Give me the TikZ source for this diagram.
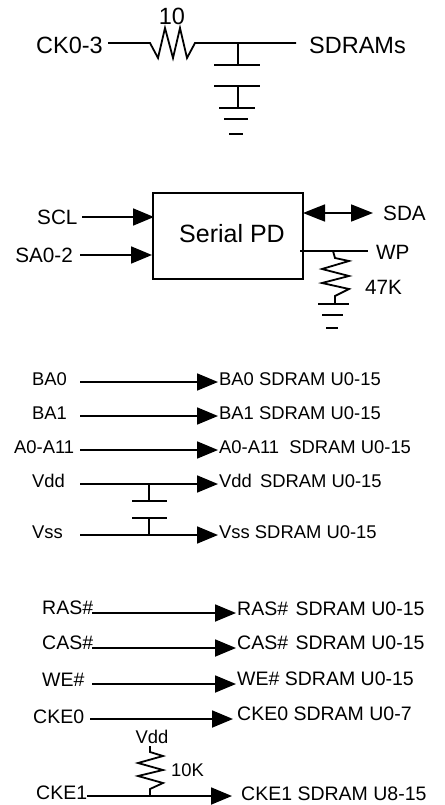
\documentclass[tikz,border=0pt]{standalone}
\usepackage{fontspec}
\setmainfont{Liberation Sans}
\usetikzlibrary{arrows.meta}
\tikzset{
  every node/.style = {inner sep = 0pt, anchor = west},
  big/.style = {font = \fontsize{23.5}{26}\selectfont},
  mid/.style = {font = \fontsize{20.7}{24}\selectfont},
  low/.style = {font = \fontsize{19.5}{22}\selectfont},
  small/.style = {font = \fontsize{18.4}{21}\selectfont},
  wire/.style = {line width = 1.8pt},
  bus/.style = {wire, -{Triangle[length = 21pt, width = 17pt]}},
  twoway/.style = {wire, {Triangle[length = 22pt, width = 17pt]}-{Triangle[length = 22pt, width = 17pt]}}
}
\begin{document}
\begin{tikzpicture}[x = 1pt, y = -1pt, line join = miter]
  \useasboundingbox (0,0) rectangle (444,805);

  %clock line
  \node[big] (ck) at (36,45) {CK0-3};
  \node[big, anchor = center] (ckval) at (172,16) {10};
  \node[big] (sdrams) at (309,45) {SDRAMs};
  \coordinate (cka) at (108,43);
  \coordinate (ckb) at (296,43);
  \coordinate (ckc) at (238,43);
  \coordinate (ckd) at (238,65);
  \coordinate (cke) at (238,86);
  \coordinate (ckf) at (238,108);
  \draw[wire] (cka) -- (150,43) -- (158,58) -- (165,28) -- (173,58) -- (180,28)
    -- (187,58) -- (195,43) -- (ckb);
  \draw[wire] (ckc) -- (ckd);
  \draw[wire] (214,65) -- (260,65);
  \draw[wire] (214,86) -- (260,86);
  \draw[wire] (cke) -- (ckf);
  \draw[wire] (219,108) -- (255,108);
  \draw[wire] (224,119) -- (248,119);
  \draw[wire] (229,134) -- (243,134);

  %serial pd
  \node[draw, line width = 1.8pt, minimum width = 150pt, minimum height = 86pt] (pd) at (152,236) {};
  \node[font = \fontsize{25}{28}\selectfont] (pdtext) at (179,234) {Serial PD};
  \node[mid] (scl) at (37,217) {SCL};
  \node[mid, anchor = east] (sa) at (73,255) {SA0-2};
  \node[mid] (sda) at (383,213) {SDA};
  \node[mid] (wp) at (376,252) {WP};
  \node[mid] (pdval) at (365,287) {47K};
  \coordinate (scla) at (82,217);
  \coordinate (sclb) at (154,217);
  \coordinate (saa) at (80,255);
  \coordinate (sab) at (152,255);
  \coordinate (sdaa) at (303,213);
  \coordinate (sdab) at (373,213);
  \coordinate (wpa) at (300,251);
  \coordinate (wpb) at (368,251);
  \draw[bus] (scla) -- (sclb);
  \draw[bus] (saa) -- (sab);
  \draw[twoway] (sdaa) -- (sdab);
  \draw[wire] (wpa) -- (wpb);
  \draw[wire] (333,251) -- (335,258) -- (349,261) -- (322,269) -- (349,276) -- (322,283)
    -- (349,289) -- (335,296) -- (335,304);
  \draw[wire] (318,304) -- (349,304);
  \draw[wire] (322,315) -- (343,315);
  \draw[wire] (326,328) -- (338,328);

  %middle group
  \node[small] (ba0) at (32,379) {BA0};
  \node[small] (ba1) at (32,413) {BA1};
  \node[small] (addr) at (14,447) {A0-A11};
  \node[small] (vdd) at (32,481) {Vdd};
  \node[small] (vss) at (32,532) {Vss};
  \node[small] (ba0out) at (219,379) {BA0 SDRAM U0-15};
  \node[small] (ba1out) at (219,413) {BA1 SDRAM U0-15};
  \node[small] (addrout) at (219,447) {A0-A11\hspace{5pt} SDRAM U0-15};
  \node[small] (vddout) at (219,481) {Vdd\hspace{3pt} SDRAM U0-15};
  \node[small] (vssout) at (219,532) {Vss SDRAM U0-15};
  \coordinate (ba0a) at (80,382);
  \coordinate (ba0b) at (218,382);
  \coordinate (ba1a) at (80,416);
  \coordinate (ba1b) at (218,416);
  \coordinate (addra) at (80,450);
  \coordinate (addrb) at (218,450);
  \coordinate (vdda) at (80,484);
  \coordinate (vddb) at (218,484);
  \coordinate (vssa) at (80,535);
  \coordinate (vssb) at (218,535);
  \draw[bus] (ba0a) -- (ba0b);
  \draw[bus] (ba1a) -- (ba1b);
  \draw[bus] (addra) -- (addrb);
  \draw[bus] (vdda) -- (vddb);
  \draw[bus] (vssa) -- (vssb);
  \draw[wire] (149,484) -- (149,501);
  \draw[wire] (132,501) -- (167,501);
  \draw[wire] (132,518) -- (167,518);
  \draw[wire] (149,518) -- (149,535);

  %lower group
  \node[low] (ras) at (42,608) {RAS\#};
  \node[low] (cas) at (42,643) {CAS\#};
  \node[low] (we) at (42,680) {WE\#};
  \node[low] (cke0) at (33,717) {CKE0};
  \node[low] (cke1) at (36,793) {CKE1};
  \node[small, anchor = center] (pull) at (152,737) {Vdd};
  \node[small] (pullval) at (171,770) {10K};
  \node[low] (rasout) at (237,609) {RAS\#\hspace{2pt} SDRAM U0-15};
  \node[low] (casout) at (237,643) {CAS\#\hspace{2pt} SDRAM U0-15};
  \node[low] (weout) at (237,679) {WE\# SDRAM U0-15};
  \node[low] (cke0out) at (237,714) {CKE0 SDRAM U0-7};
  \node[low] (cke1out) at (241,794) {CKE1 SDRAM U8-15};
  \coordinate (rasa) at (92,613);
  \coordinate (rasb) at (236,613);
  \coordinate (casa) at (92,648);
  \coordinate (casb) at (236,648);
  \coordinate (wea) at (92,684);
  \coordinate (web) at (236,684);
  \coordinate (cke0a) at (90,719);
  \coordinate (cke0b) at (233,719);
  \coordinate (cke1a) at (87,796);
  \coordinate (cke1b) at (232,796);
  \draw[bus] (rasa) -- (rasb);
  \draw[bus] (casa) -- (casb);
  \draw[bus] (wea) -- (web);
  \draw[bus] (cke0a) -- (cke0b);
  \draw[bus] (cke1a) -- (cke1b);
  \draw[wire] (150,746) -- (150,752) -- (163,756) -- (138,763) -- (163,770) -- (138,776)
    -- (163,783) -- (150,789) -- (150,796);
\end{tikzpicture}
\end{document}
